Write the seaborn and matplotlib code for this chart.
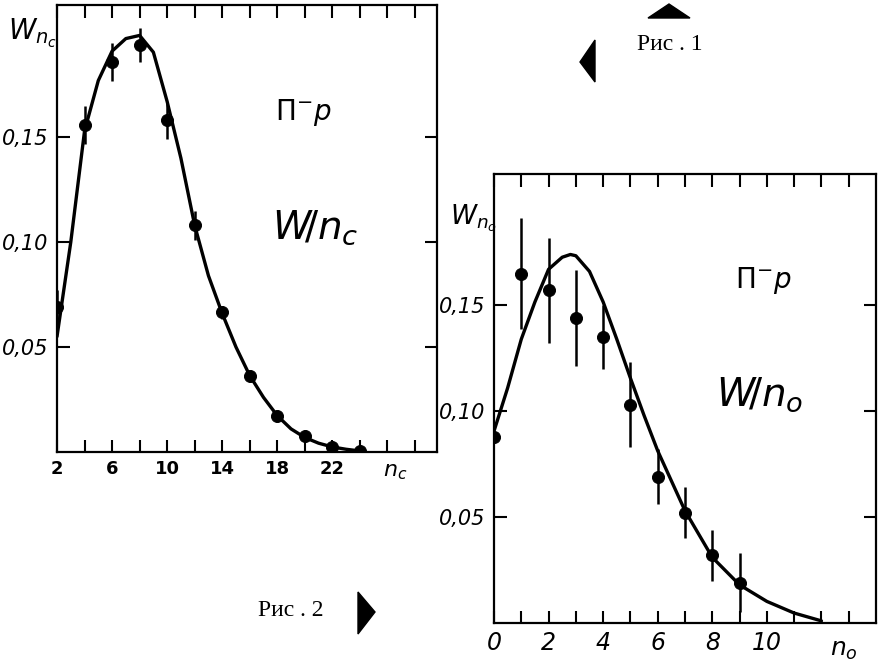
import numpy as np
import pandas as pd
import seaborn as sns
import matplotlib.pyplot as plt
from matplotlib.patches import Polygon
from matplotlib.font_manager import FontProperties

# left panel: charged multiplicity n_c
nc_points = [2, 4, 6, 8, 10, 12, 14, 16, 18, 20, 22, 24]
wc_points = [0.069, 0.156, 0.186, 0.194, 0.158, 0.108, 0.0665, 0.036, 0.017, 0.0077, 0.0024, 0.0005]
wc_errors = [0.008, 0.009, 0.009, 0.008, 0.009, 0.007, 0.003, 0.002, 0.002, 0.001, 0.001, 0.0005]
nc_curve = [2, 3, 4, 5, 6, 7, 8, 9, 10, 11, 12, 13, 14, 15, 16, 17, 18, 19, 20, 21, 22, 23, 24]
wc_curve = [0.055, 0.100, 0.153, 0.177, 0.191, 0.197, 0.1985, 0.1905, 0.167, 0.140, 0.108, 0.084,
            0.066, 0.050, 0.0364, 0.026, 0.0173, 0.011, 0.0069, 0.0042, 0.0024, 0.0013, 0.0005]
nc_ticks = [2, 6, 10, 14, 18, 22]

# right panel: neutral multiplicity n_0
n0_points = [0, 1, 2, 3, 4, 5, 6, 7, 8, 9]
w0_points = [0.088, 0.165, 0.157, 0.144, 0.135, 0.103, 0.069, 0.052, 0.032, 0.019]
w0_errors = [0.002, 0.026, 0.025, 0.0225, 0.015, 0.020, 0.013, 0.012, 0.012, 0.014]
n0_curve = [0, 0.5, 1, 1.5, 2, 2.5, 2.8, 3, 3.5, 4, 4.5, 5, 5.5, 6, 7, 8, 9, 10, 11, 12]
w0_curve = [0.0906, 0.111, 0.134, 0.1516, 0.167, 0.1727, 0.174, 0.1734, 0.166, 0.1516, 0.134,
            0.1156, 0.098, 0.0813, 0.053, 0.031, 0.018, 0.0102, 0.0047, 0.001]
n0_ticks = [0, 2, 4, 6, 8, 10]

y_ticks = [0.05, 0.10, 0.15]
y_labels = ["0,05", "0,10", "0,15"]

sns.set_style("white")
plt.rcParams["font.family"] = ["DejaVu Sans"]
plt.rcParams["mathtext.fontset"] = "dejavusans"
plt.rcParams["text.color"] = "black"

W, H = 889, 667
fig = plt.figure(figsize=(W / 100, H / 100), dpi=100)

ax1 = fig.add_axes([57 / W, 1 - 452 / H, 380 / W, 447 / H])
ax2 = fig.add_axes([494 / W, 1 - 623 / H, 382 / W, 449 / H])

left = pd.DataFrame({"n": nc_points, "w": wc_points, "e": wc_errors})
left_curve = pd.DataFrame({"n": nc_curve, "w": wc_curve})
right = pd.DataFrame({"n": n0_points, "w": w0_points, "e": w0_errors})
right_curve = pd.DataFrame({"n": n0_curve, "w": w0_curve})

for ax, pts, crv in [(ax1, left, left_curve), (ax2, right, right_curve)]:
    sns.lineplot(data=crv, x="n", y="w", ax=ax, color="black", linewidth=2.4, sort=False)
    ax.vlines(pts["n"], pts["w"] - pts["e"], pts["w"] + pts["e"], color="black", linewidth=1.8)
    sns.scatterplot(data=pts, x="n", y="w", ax=ax, color="black", s=75, edgecolor="black", zorder=5)
    ax.set_xlabel("")
    ax.set_ylabel("")
    for s in ax.spines.values():
        s.set_linewidth(1.6)
        s.set_color("black")
    ax.set_yticks(y_ticks)
    ax.set_yticklabels(y_labels, fontsize=15, fontstyle="italic", fontfamily="DejaVu Sans")
    ax.tick_params(axis="both", direction="in", length=9, width=1.5, top=True, right=True,
                   bottom=True, left=True, pad=6, colors="black")

ax1.set_xlim(2, 29.6)
ax1.set_ylim(0, 0.213)
ax1.set_xticks(np.arange(2, 30, 2))
ax1.set_xticklabels([str(t) if t in nc_ticks else "" for t in range(2, 30, 2)],
                    fontsize=13, fontweight="bold", fontfamily="DejaVu Sans")

ax2.set_xlim(0, 14)
ax2.set_ylim(0, 0.212)
ax2.set_xticks(range(0, 14))
ax2.set_xticklabels([str(t) if t in n0_ticks else "" for t in range(0, 14)],
                    fontsize=17, fontstyle="italic", fontfamily="DejaVu Sans")


def px(x, y):
    return x / W, 1 - y / H


fig.text(*px(8, 33), r"$W_{n_c}$", fontsize=20, va="center", ha="left")
fig.text(*px(303, 112), r"$\Pi^{-}p$", fontsize=20, va="center", ha="center")
fig.text(*px(315, 228), r"$W\!/n_c$", fontsize=28, va="center", ha="center")
fig.text(*px(383, 472), r"$n_c$", fontsize=16, va="center", ha="left")

fig.text(*px(450, 218), r"$W_{n_o}$", fontsize=19, va="center", ha="left")
fig.text(*px(763, 280), r"$\Pi^{-}p$", fontsize=20, va="center", ha="center")
fig.text(*px(760, 395), r"$W\!/n_o$", fontsize=28, va="center", ha="center")
fig.text(*px(830, 650), r"$n_o$", fontsize=18, va="center", ha="left")

caption_font = FontProperties(family=["Liberation Serif"], size=17)
fig.text(*px(670, 45), "Рис . 1", va="center", ha="center", fontproperties=caption_font)
fig.text(*px(291, 610), "Рис . 2", va="center", ha="center", fontproperties=caption_font)

for tri in [[(648, 18), (690, 18), (669, 4)],
            [(595, 40), (595, 82), (580, 62)],
            [(358, 592), (358, 634), (375, 612)]]:
    fig.patches.append(Polygon([px(x, y) for x, y in tri], closed=True, color="black",
                               transform=fig.transFigure, figure=fig))

fig.savefig("out.png", dpi=100, facecolor="white")
